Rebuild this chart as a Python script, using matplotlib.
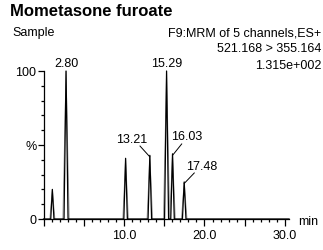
import numpy as np
import matplotlib
matplotlib.use('Agg')
import matplotlib.pyplot as plt
from matplotlib.ticker import MultipleLocator, FuncFormatter

plt.rcParams['font.family'] = ['Liberation Sans', 'DejaVu Sans']

# ============================== DATA ==============================
peak_rt = [1.10, 2.80, 10.20, 13.21, 15.29, 16.03, 17.48]
peak_height = [20, 100, 41, 43, 100, 44, 25]
peak_halfwidth = [0.20, 0.25, 0.22, 0.22, 0.25, 0.22, 0.22]

# labelled peaks
label_text = ['2.80', '15.29', '13.21', '16.03', '17.48']
label_rt = [2.80, 15.29, 13.21, 16.03, 17.48]
label_height = [100, 100, 43, 44, 25]

title = 'Mometasone furoate'
header_left = 'Sample'
header_right = ['F9:MRM of 5 channels,ES+', '521.168 > 355.164', '1.315e+002']

FS = 9

# ============================== FIGURE ==============================
fig = plt.figure(figsize=(3.23, 2.51), dpi=100)
ax = fig.add_axes([43.5 / 323, 31 / 251, 245.5 / 323, 148 / 251])

# grey shoulders of the overlaid channels
for rt, h, w in zip(peak_rt, peak_height, peak_halfwidth):
    ax.plot([rt - w * 1.6, rt, rt + w * 1.6], [0, h, 0], color='#999999', lw=0.6, zorder=1)

# build trace as triangles
xs, ys = [0.0], [0.0]
for rt, h, w in zip(peak_rt, peak_height, peak_halfwidth):
    xs += [rt - w, rt, rt + w]
    ys += [0, h, 0]
xs.append(30.5)
ys.append(0)
ax.plot(xs, ys, color='black', lw=0.9, clip_on=False)

ax.set_xlim(0, 30.5)
ax.set_ylim(0, 100)

for s in ['top', 'right']:
    ax.spines[s].set_visible(False)
ax.spines['left'].set_linewidth(0.9)
ax.spines['bottom'].set_linewidth(0.9)

ax.xaxis.set_major_locator(MultipleLocator(5))
ax.xaxis.set_minor_locator(MultipleLocator(1))
ax.xaxis.set_major_formatter(FuncFormatter(lambda v, p: '%.1f' % v if v > 0 and int(round(v)) % 10 == 0 else ''))
ax.set_yticks([0, 50, 100])
ax.set_yticklabels(['0', '%', '100'])
ax.yaxis.set_minor_locator(MultipleLocator(10))
ax.tick_params(axis='x', which='major', length=5, width=0.9, labelsize=FS, pad=2)
ax.tick_params(axis='x', which='minor', length=2.5, width=0.9)
ax.tick_params(axis='y', which='major', length=4, width=0.9, labelsize=FS, pad=1)
ax.tick_params(axis='y', which='minor', length=2, width=0.9)

# peak labels
txt_pos = [(2.88, 105.5), (15.3, 105.5), (10.96, 54), (17.79, 56.1), (19.65, 36)]
lead_start = [None, None, (11.99, 49.3), (17.17, 50.7), (18.73, 31.1)]
for t, rt, h, tp, ls in zip(label_text, label_rt, label_height, txt_pos, lead_start):
    ax.text(tp[0], tp[1], t, ha='center', va='center', fontsize=FS, clip_on=False)
    if ls is not None:
        ax.plot([ls[0], rt], [ls[1], h - 1], color='black', lw=0.7, clip_on=False)

ax.text(298 / 323, 1 - 222 / 251, 'min', transform=fig.transFigure, fontsize=FS, ha='left', va='center')

fig.text(10 / 323, 1 - 12 / 251, title, fontsize=12, fontweight='bold', ha='left', va='center')
fig.text(12 / 323, 1 - 33 / 251, header_left, fontsize=FS, ha='left', va='center')
for i, line in enumerate(header_right):
    fig.text(321 / 323, 1 - (33 + 16.5 * i) / 251, line, fontsize=FS, ha='right', va='center')

fig.savefig('out.png', dpi=100)
